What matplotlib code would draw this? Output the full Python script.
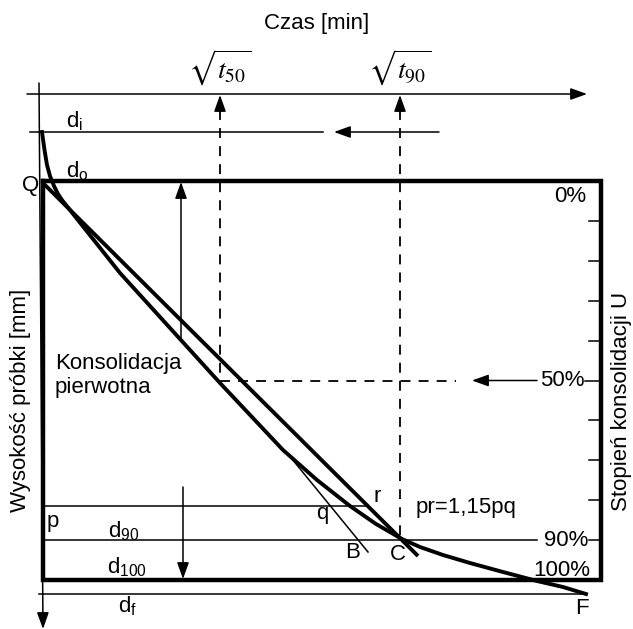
import matplotlib
matplotlib.use('Agg')
import matplotlib.pyplot as plt

plt.rcParams['font.family'] = ['Liberation Sans', 'DejaVu Sans']
plt.rcParams['mathtext.fontset'] = 'custom'
plt.rcParams['mathtext.rm'] = 'Liberation Sans'
plt.rcParams['mathtext.it'] = 'Liberation Sans:italic'

# ---------------- data (schematic coordinates: x = sqrt(time), y = sample height) ----------------
pct_levels = [0, 10, 20, 30, 40, 50, 60, 70, 80, 90, 100]
pct_labels = ['0%', '50%', '90%', '100%']
pct_label_levels = [0, 50, 90, 100]
y_top, y_bottom = 181, 580          # heights of 0 % and 100 % consolidation
x_left, x_right = 43, 601           # box limits on the sqrt(time) axis

# consolidation curve (d_i -> F)
curve_x = [42, 44.5, 47, 50, 54, 58, 62, 120, 220, 283, 317, 350, 376,
           402, 420, 443, 470, 503, 537, 563, 586]
curve_y = [132, 150, 165, 176, 186, 194, 200, 273, 383, 450, 480, 506, 524,
           539, 547, 555, 563, 572, 581, 587, 594]
# line Q-C (abscissa 1.15 x initial tangent)
qc_x = [43, 418]
qc_y = [183, 556]
# initial tangent Q-B (visible part)
tangent_x = [292, 368]
tangent_y = [459, 552]

x_t50, x_t90 = 220, 400            # sqrt(t50), sqrt(t90)
y_axis_time = 94
y_di, y_df = 132, 594
y_r = 506
x_r = 367
x_F = 586

def ypct(p):
    return y_top + p / 100.0 * (y_bottom - y_top)

# ---------------- figure ----------------
fig = plt.figure(figsize=(6.33, 6.29), dpi=100)
ax = fig.add_axes([0, 0, 1, 1])
ax.set_xlim(0, 633)
ax.set_ylim(629, 0)
ax.axis('off')

K = 'black'
THIN = 1.1
THICK = 2.8

def arrow(x0, y0, x1, y1, lw=THIN):
    ax.annotate('', xy=(x1, y1), xytext=(x0, y0),
                arrowprops=dict(arrowstyle='-|>,head_length=1.0,head_width=0.36',
                                mutation_scale=10, lw=lw, color=K,
                                shrinkA=0, shrinkB=0))

# time axis (top) and height axis (left)
arrow(27, y_axis_time, 587, y_axis_time)
arrow(39, 83, 43, 629)

# box
ax.plot([x_left, x_right, x_right, x_left, x_left],
        [ypct(0), ypct(0), ypct(100), ypct(100), ypct(0)],
        color=K, lw=3.2, solid_joinstyle='miter', solid_capstyle='projecting')

# right ticks
for p in pct_levels[1:-1]:
    x0 = x_right - (16 if p == 50 else 12)
    ax.plot([x0, x_right], [ypct(p), ypct(p)], color=K, lw=THIN)

# horizontal thin lines
ax.plot([30, 323], [y_di, y_di], color=K, lw=THIN)
arrow(439, y_di, 334, y_di)
ax.plot([39, x_F], [y_df, y_df], color=K, lw=THIN)
ax.plot([x_left, 537], [ypct(90), ypct(90)], color=K, lw=THIN)
ax.plot([x_left, x_r], [y_r, y_r], color=K, lw=THIN)

# dashed construction lines
dash = dict(color=K, lw=1.3, linestyle=(0, (5.5, 4.5)))
ax.plot([x_t50, x_t50], [110, ypct(50)], **dash)
ax.plot([x_t50, 456], [ypct(50), ypct(50)], **dash)
ax.plot([x_t90, x_t90], [110, ypct(90)], **dash)
arrow(x_t50, 112, x_t50, y_axis_time + 1)
arrow(x_t90, 112, x_t90, y_axis_time + 1)
arrow(537, ypct(50), 472, ypct(50))

# vertical arrows for primary consolidation and d90/d100
arrow(181, 338, 181, ypct(0) + 1)
arrow(183, 487, 183, ypct(100) - 1)

# curves
ax.plot(tangent_x, tangent_y, color=K, lw=THIN)
ax.plot(qc_x, qc_y, color=K, lw=THICK, solid_capstyle='butt')
ax.plot(curve_x, curve_y, color=K, lw=THICK, solid_joinstyle='round')

# ---------------- text ----------------
FS = 16
ax.text(317, 24, 'Czas [min]', fontsize=FS, ha='center', va='center')
ax.text(x_t50, 68, r'$\sqrt{t_{50}}$', fontsize=20, ha='center', va='center', math_fontfamily='stix')
ax.text(x_t90, 68, r'$\sqrt{t_{90}}$', fontsize=20, ha='center', va='center', math_fontfamily='stix')

ax.text(66, 127, r'd$_{\mathregular{i}}$', fontsize=FS, ha='left', va='baseline')
ax.text(66, 177, r'd$_{\mathregular{o}}$', fontsize=FS, ha='left', va='baseline')
ax.text(39, 185, 'Q', fontsize=FS, ha='right', va='center')
ax.text(55, 363, 'Konsolidacja', fontsize=FS, ha='left', va='center')
ax.text(55, 387, 'pierwotna', fontsize=FS, ha='left', va='center')
ax.text(21, 400, 'Wysokość próbki [mm]', fontsize=FS, ha='center', va='center', rotation=90)
ax.text(622, 401, 'Stopień konsolidacji U', fontsize=FS, ha='center', va='center', rotation=90)

ax.text(377, 497, 'r', fontsize=FS, ha='center', va='center')
ax.text(322, 514, 'q', fontsize=FS, ha='center', va='center')
ax.text(416, 508, 'pr=1,15pq', fontsize=FS, ha='left', va='center')
ax.text(53, 521, 'p', fontsize=FS, ha='center', va='center')
ax.text(124, 537, r'd$_{\mathregular{90}}$', fontsize=FS, ha='center', va='baseline')
ax.text(127, 573, r'd$_{\mathregular{100}}$', fontsize=FS, ha='center', va='baseline')
ax.text(127, 612, r'd$_{\mathregular{f}}$', fontsize=FS, ha='center', va='baseline')
ax.text(353, 553, 'B', fontsize=FS, ha='center', va='center')
ax.text(398, 555, 'C', fontsize=FS, ha='center', va='center')
ax.text(582, 608, 'F', fontsize=FS, ha='center', va='center')

pct_pos = {0: (586, 197), 50: (585, ypct(50)), 90: (588, ypct(90)), 100: (590, 570)}
for lab, p in zip(pct_labels, pct_label_levels):
    x, y = pct_pos[p]
    ax.text(x, y, lab, fontsize=FS, ha='right', va='center')

fig.savefig('out.png', dpi=100)
